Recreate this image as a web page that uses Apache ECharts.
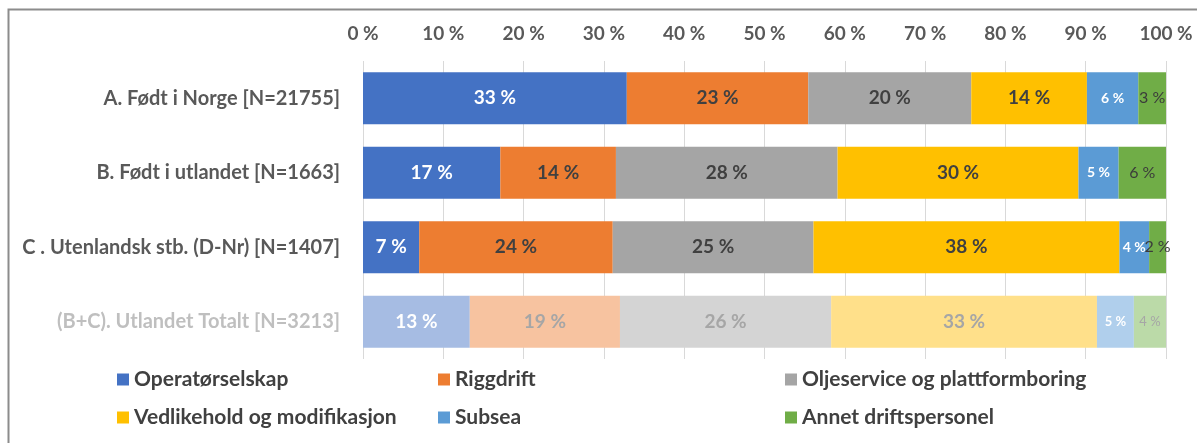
<!DOCTYPE html>
<html>
<head>
<meta charset="utf-8">
<script src="https://cdn.jsdelivr.net/npm/echarts@6/dist/echarts.min.js"></script>
<style>
  html, body { margin: 0; padding: 0; background: #fff; }
  #chart { width: 1197px; height: 443px; }
</style>
</head>
<body>
<div id="chart"></div>
<script>
// data
const categories = [
  'A. Født i Norge [N=21755]',
  'B. Født i utlandet [N=1663]',
  'C . Utenlandsk stb. (D-Nr) [N=1407]',
  '(B+C). Utlandet Totalt [N=3213]'
];
const seriesNames = [
  'Operatørselskap',
  'Riggdrift',
  'Oljeservice og plattformboring',
  'Vedlikehold og modifikasjon',
  'Subsea',
  'Annet driftspersonel'
];
const operator   = [32.85, 17.1, 7.0, 13.3];
const riggdrift  = [22.6, 14.4, 24.1, 18.7];
const oljeservice = [20.3, 27.6, 25.0, 26.3];
const vedlikehold = [14.4, 30.0, 38.1, 33.1];
const subsea     = [6.4, 5.0, 3.7, 4.6];
const annet      = [3.45, 5.9, 2.1, 4.0];
const xTicks = [0, 10, 20, 30, 40, 50, 60, 70, 80, 90, 100];

const seriesData = [operator, riggdrift, oljeservice, vedlikehold, subsea, annet];
const colors = ['#4472C4', '#ED7D31', '#A5A5A5', '#FFC000', '#5B9BD5', '#70AD47'];
const fadedColors = ['#A6BCE3', '#F7C3A0', '#D4D4D4', '#FFE08A', '#B0CFEC', '#BBDAA8'];
const labelColors = ['#ffffff', '#404040', '#404040', '#404040', '#ffffff', '#3b3b3b'];
const fadedLabelColors = ['#ffffff', '#a6a6a6', '#a6a6a6', '#a6a6a6', '#ffffff', '#a6a6a6'];
const labelSizes = [19, 19, 19, 19, 14, 16];
const labelWeights = ['bold', 'bold', 'bold', 'bold', 'bold', 'normal'];
const fadedRow = 3;
const fontFam = 'Lato, "Open Sans", sans-serif';

let myChart = echarts.init(document.getElementById('chart'));

let series = seriesData.map(function (vals, si) {
    return {
        name: seriesNames[si],
        type: 'bar',
        stack: 'total',
        barWidth: 52,
        itemStyle: { color: colors[si] },
        label: {
            show: true,
            position: 'inside',
            color: labelColors[si],
            fontFamily: fontFam,
            fontSize: labelSizes[si],
            fontWeight: labelWeights[si],
            formatter: function (p) { return Math.round(p.value) + ' %'; }
        },
        data: vals.map(function (v, i) {
            if (i !== fadedRow) return v;
            return {
                value: v,
                itemStyle: { color: fadedColors[si] },
                label: {
                    color: fadedLabelColors[si],
                    fontSize: si >= 4 ? 13 : 19
                }
            };
        })
    };
});

// legends laid out in three columns, two rows
const legendCols = [117, 438, 785];
const legendRows = [369, 407];
let legends = seriesNames.map(function (name, i) {
    return {
        data: [name],
        left: legendCols[i % 3],
        top: legendRows[Math.floor(i / 3)],
        icon: 'rect',
        itemWidth: 12,
        itemHeight: 12,
        selectedMode: false,
        padding: 0,
        textStyle: {
            color: '#404040',
            fontFamily: fontFam,
            fontWeight: 'bold',
            fontSize: 21
        }
    };
});

let option = {
    animation: false,
    backgroundColor: '#ffffff',
    graphic: [{
        type: 'rect',
        shape: { x: 8.5, y: 9.5, width: 1400, height: 800 },
        style: { fill: 'none', stroke: '#8c8c8c', lineWidth: 2 },
        silent: true
    }],
    legend: legends,
    grid: {
        left: 363,
        right: 31,
        top: 61,
        height: 298
    },
    xAxis: {
        type: 'value',
        position: 'top',
        min: 0,
        max: 100,
        interval: 10,
        axisLine: { show: false },
        axisTick: { show: false },
        splitLine: { show: true, lineStyle: { color: '#d9d9d9', width: 1 } },
        axisLabel: {
            margin: 18,
            color: '#595959',
            fontFamily: fontFam,
            fontWeight: 'bold',
            fontSize: 19,
            formatter: function (v) { return xTicks.indexOf(v) >= 0 ? v + ' %' : ''; }
        }
    },
    yAxis: {
        type: 'category',
        inverse: true,
        data: categories.map(function (c, i) {
            return i === fadedRow ? { value: c, textStyle: { color: '#bfbfbf' } } : c;
        }),
        axisLine: { show: false },
        axisTick: { show: false },
        axisLabel: {
            margin: 23,
            color: '#595959',
            fontFamily: fontFam,
            fontWeight: 'bold',
            fontSize: 20
        }
    },
    series: series
};
myChart.setOption(option);
</script>
</body>
</html>
